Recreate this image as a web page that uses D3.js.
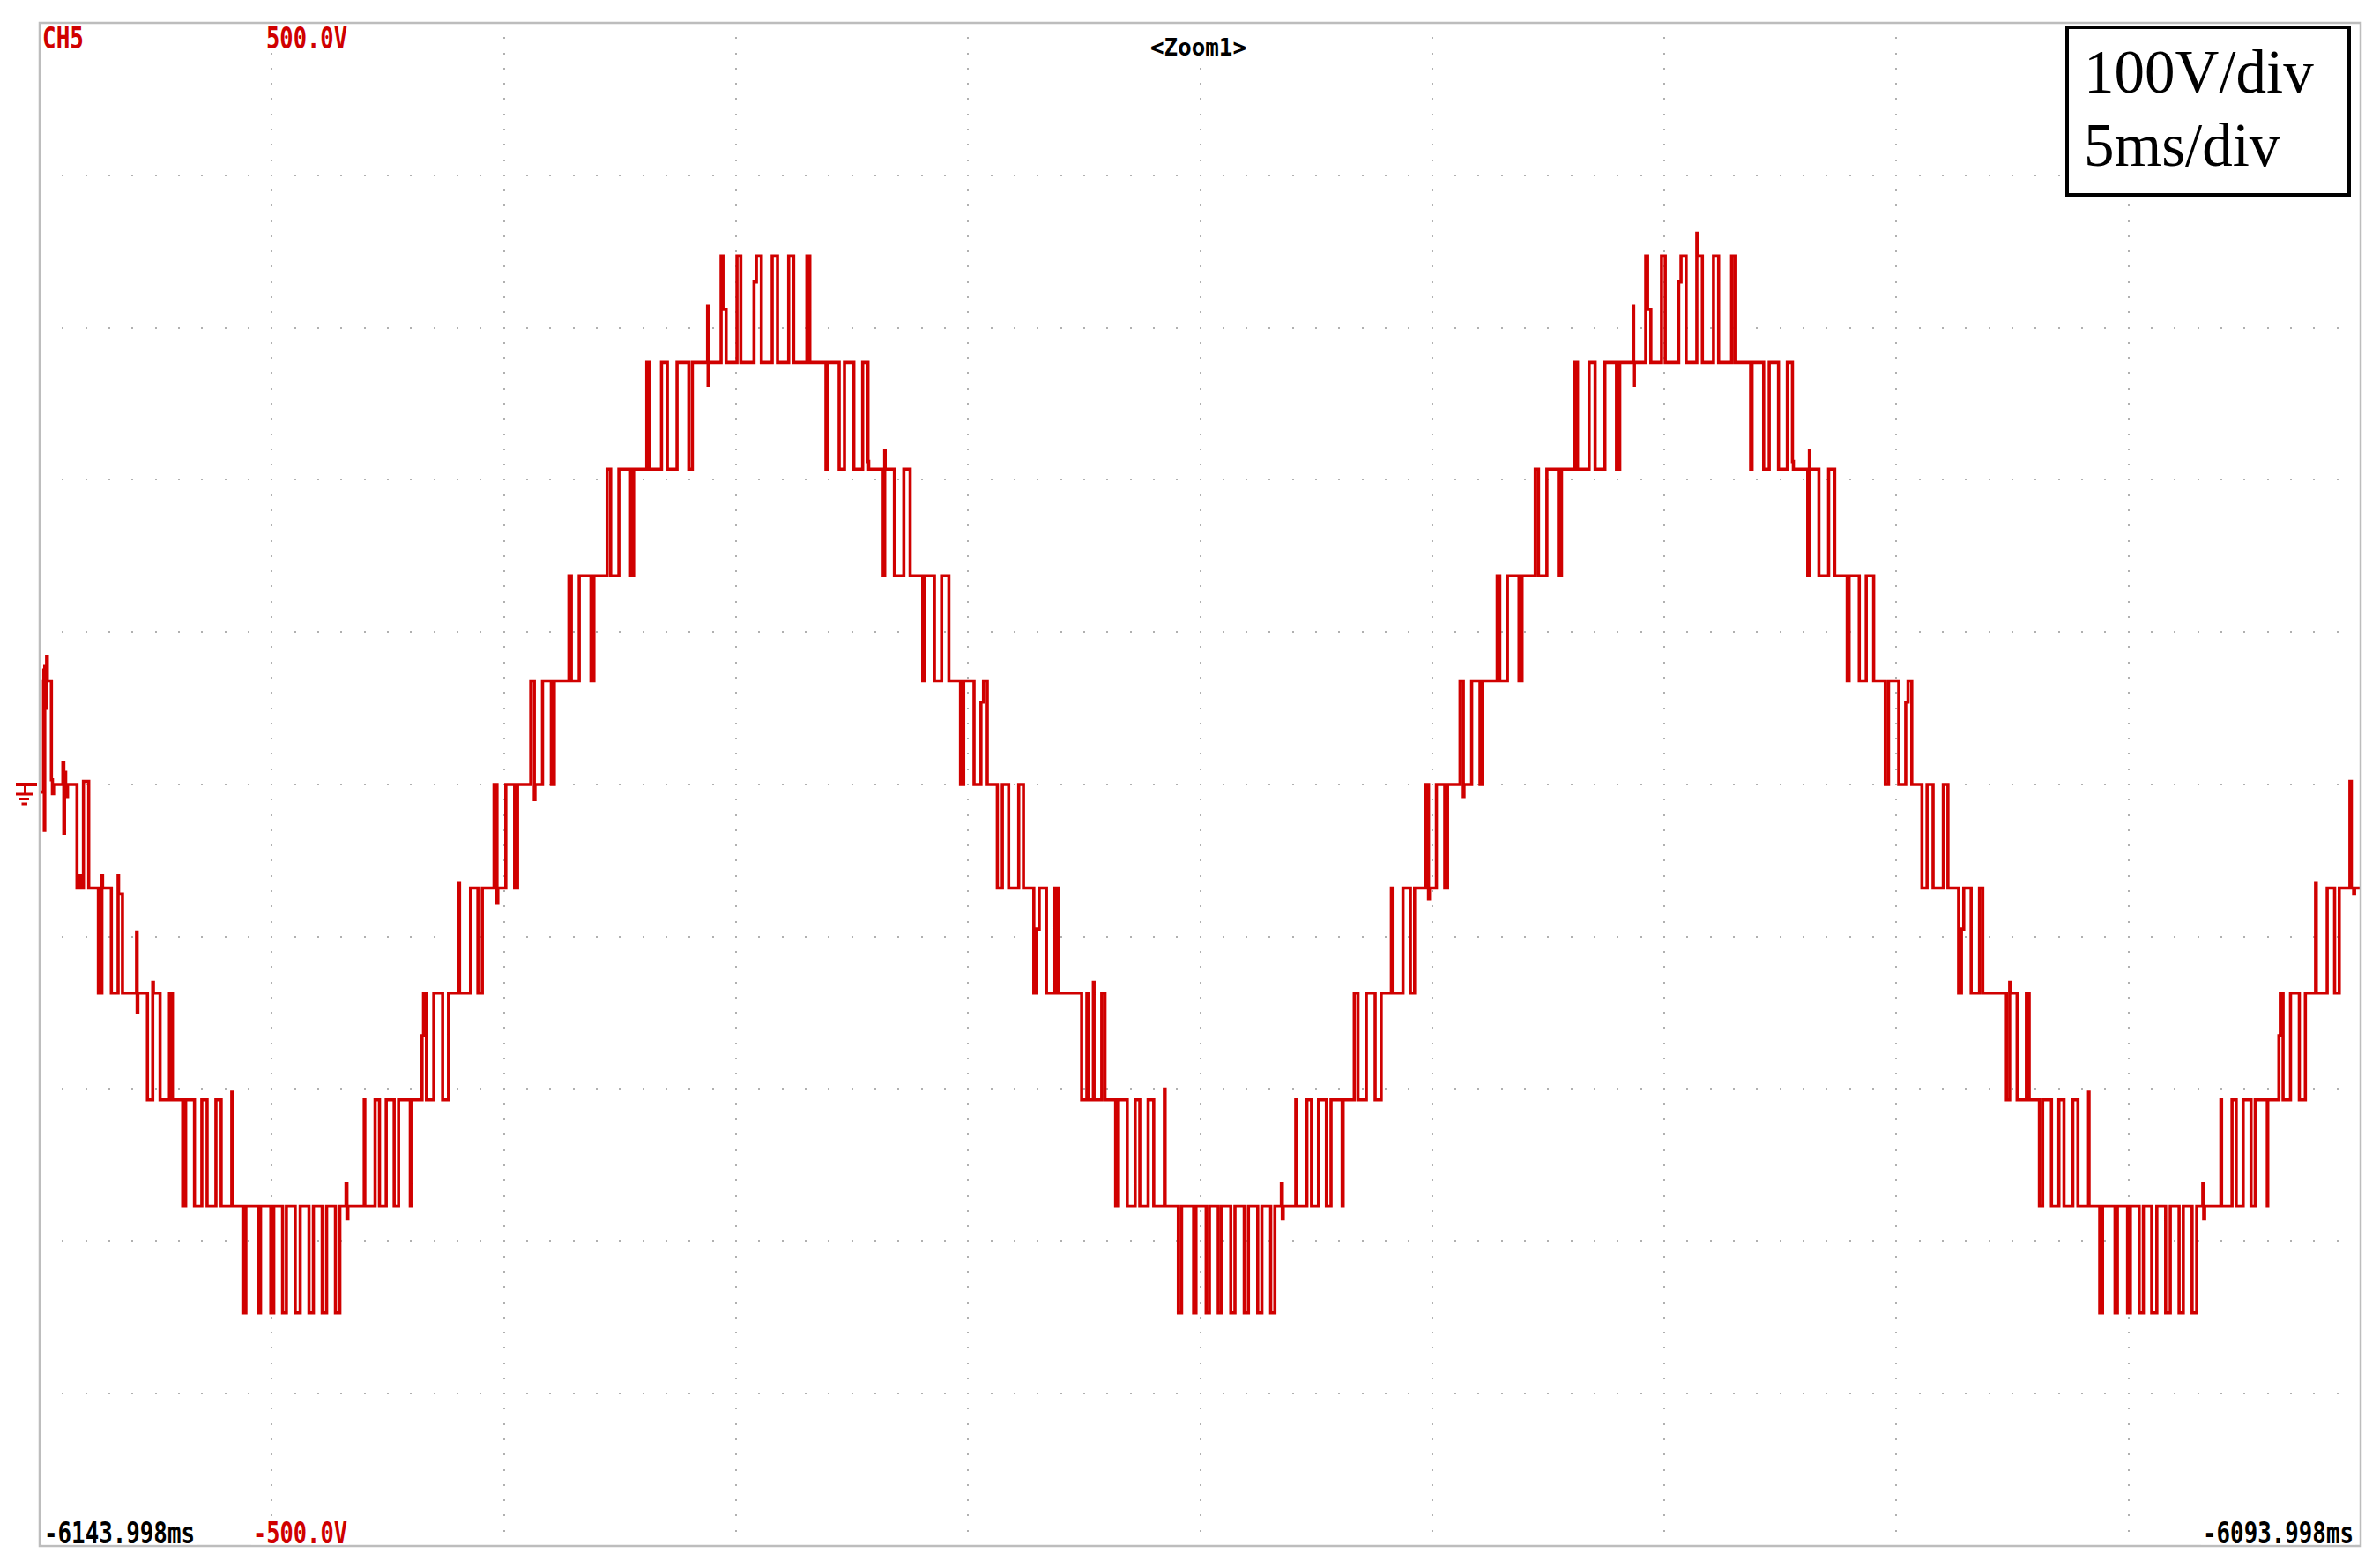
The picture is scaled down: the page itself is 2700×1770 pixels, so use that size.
<!DOCTYPE html>
<html><head><meta charset="utf-8">
<script src="https://cdn.jsdelivr.net/npm/d3@7"></script>
<style>html,body{margin:0;padding:0;background:#fff;} svg{display:block;}</style>
</head><body>
<svg id="chart" width="2700" height="1770"></svg>
<script>
// ---------- labels ----------
const channelLabel = "CH5";
const voltTopLabel = "500.0V";
const voltBottomLabel = "-500.0V";
const zoomLabel = "<Zoom1>";
const timeStartLabel = "-6143.998ms";
const timeEndLabel = "-6093.998ms";
const scaleNote = ["100V/div", "5ms/div"];
// ---------- axes ----------
const timeDomainMs = [0, 50];      // 10 div x 5 ms, from left edge
const voltDomain = [-500, 500];    // 10 div x 100 V
const timeDivMs = 5, voltDiv = 100;
// ---------- trace (ms from left edge, volts), step-after ----------
const traceFall1 = [[0.000,68],[0.010,-5],[0.090,75],[0.100,-30],[0.110,78],[0.135,50],[0.150,84],[0.165,68],
 [0.253,3],[0.275,-6],[0.300,0],[0.500,14],[0.520,-32],[0.535,8],[0.560,-8],[0.600,0],
 [0.804,-68],[0.850,-60],[0.900,-68],[0.943,2],[1.057,-68],
 [1.265,-137],[1.340,-60],[1.355,-68],
 [1.544,-137],[1.690,-60],[1.700,-72],[1.784,-137],
 [2.088,-97],[2.100,-150],[2.115,-137],
 [2.322,-207],[2.436,-130],[2.450,-137],[2.594,-207],[2.797,-137],[2.860,-207],
 [3.082,-277],[3.145,-207],[3.335,-277],[3.493,-207],[3.607,-277],[3.797,-207],[3.910,-277],
 [4.138,-202],[4.150,-277]];
const traceTrough1 = [[4.379,-347],[4.442,-277],[4.708,-347],[4.758,-277],[4.980,-347],[5.043,-277],[5.233,-347],[5.315,-277],
 [5.505,-347],[5.613,-277],[5.802,-347],[5.897,-277],[6.087,-347],[6.182,-277],[6.372,-347],[6.467,-277],
 [6.600,-262],[6.620,-285],[6.640,-277]];
const traceRise1 = [[6.992,-207],[7.005,-277],[7.226,-207],[7.321,-277],[7.466,-207],[7.637,-277],[7.732,-207],[7.985,-277],[7.998,-207],
 [8.238,-165],[8.270,-137],[8.333,-207],[8.491,-137],[8.681,-207],[8.808,-137],[9.029,-65],[9.045,-137],
 [9.282,-68],[9.441,-137],[9.536,-68],[9.789,0],[9.852,-78],[9.870,-68],
 [10.042,0],[10.232,-68],[10.295,0],[10.580,68],[10.656,-10],[10.670,0],[10.833,68],[11.023,0],[11.086,68],
 [11.402,137],[11.453,68],[11.624,137],[11.877,68],[11.940,137],
 [12.225,207],[12.301,137],[12.478,207],[12.731,137],[12.795,207],
 [13.079,277],[13.143,207],[13.396,277],[13.522,207],[13.731,277],[13.984,207],[14.060,277]];
const tracePeak1 = [[14.389,314],[14.400,262],[14.415,277],[14.680,347],[14.720,312],[14.788,277],[15.022,347],[15.104,277],
 [15.389,330],[15.440,347],[15.547,277],[15.781,347],[15.895,277],[16.136,347],[16.243,277],[16.528,347],[16.591,277]];
const traceFall2 = [[16.939,207],[16.971,277],[17.224,207],[17.338,277],[17.540,207],[17.730,277],[17.844,212],[17.860,207],
 [18.173,137],[18.205,219],[18.215,207],
 [18.414,137],[18.617,207],[18.753,137],[19.024,68],[19.058,137],[19.275,68],[19.431,137],[19.587,68],[19.838,0],[19.906,68],
 [20.129,0],[20.278,54],[20.333,68],[20.414,0],[20.631,-68],[20.739,0],[20.875,-68],[21.092,0],[21.194,-68],
 [21.417,-137],[21.478,-95],[21.533,-68],[21.689,-137],[21.872,-68],[21.940,-137],[22.448,-207]];
const traceFall3 = [[22.560,-137],[22.600,-207],[22.700,-130],[22.715,-207],[22.880,-137],[22.950,-207],
 [23.180,-277],[23.240,-207],[23.430,-277],[23.600,-207],[23.700,-277],[23.880,-207],[24.000,-277],[24.230,-200],[24.245,-277]];
const traceTrough2 = [[24.53,-347],[24.60,-277],[24.86,-347],[24.91,-277],[25.13,-347],[25.20,-277],[25.39,-347],[25.46,-277],
 [25.66,-347],[25.75,-277],[25.95,-347],[26.04,-277],[26.24,-347],[26.33,-277],[26.52,-347],[26.61,-277],
 [26.75,-262],[26.77,-285],[26.79,-277]];
const traceRise2 = [[27.06,-207],[27.075,-277],[27.30,-207],[27.40,-277],[27.55,-207],[27.72,-277],[27.82,-207],[28.06,-277],[28.08,-207],
 [28.32,-137],[28.40,-207],[28.58,-137],[28.77,-207],[28.90,-137],[29.12,-68],[29.135,-137],
 [29.37,-68],[29.53,-137],[29.62,-68],[29.86,0],[29.92,-75],[29.94,-68],
 [30.09,0],[30.27,-68],[30.33,0],[30.60,68],[30.67,-8],[30.685,0],[30.85,68],[31.03,0],[31.09,68],
 [31.40,137],[31.455,68],[31.62,137],[31.87,68],[31.935,137],
 [32.22,207],[32.29,137],[32.47,207],[32.72,137],[32.785,207],
 [33.07,277],[33.13,207],[33.38,277],[33.51,207],[33.72,277],[33.97,207],[34.04,277]];
const tracePeak2 = [[34.33,314],[34.34,262],[34.355,277],[34.60,347],[34.64,312],[34.71,277],[34.94,347],[35.02,277],
 [35.31,330],[35.36,347],[35.47,277],[35.70,362],[35.72,347],[35.82,277],[36.06,347],[36.17,277],[36.45,347],[36.52,277]];
const traceFall4 = [[36.86,207],[36.89,277],[37.14,207],[37.26,277],[37.46,207],[37.65,277],[37.76,212],[37.78,207],
 [38.09,137],[38.125,219],[38.135,207],
 [38.33,137],[38.54,207],[38.67,137],[38.94,68],[38.98,137],[39.20,68],[39.35,137],[39.51,68],[39.76,0],[39.83,68],
 [40.05,0],[40.20,54],[40.25,68],[40.33,0],[40.55,-68],[40.66,0],[40.79,-68],[41.01,0],[41.11,-68],
 [41.34,-137],[41.40,-95],[41.45,-68],[41.61,-137],[41.79,-68],[41.86,-137],[42.37,-207]];
const traceFall5 = [[42.44,-130],[42.455,-137],[42.60,-207],[42.80,-137],[42.86,-207],
 [43.08,-277],[43.15,-207],[43.34,-277],[43.50,-207],[43.61,-277],[43.80,-207],[43.91,-277],[44.14,-202],[44.15,-277]];
const traceTrough3 = [[44.38,-347],[44.44,-277],[44.71,-347],[44.76,-277],[44.98,-347],[45.04,-277],[45.23,-347],[45.32,-277],
 [45.50,-347],[45.61,-277],[45.80,-347],[45.90,-277],[46.09,-347],[46.18,-277],[46.37,-347],[46.47,-277],
 [46.60,-262],[46.62,-285],[46.64,-277]];
const traceRise3 = [[46.99,-207],[47.005,-277],[47.23,-207],[47.32,-277],[47.47,-207],[47.64,-277],[47.73,-207],[47.99,-277],[48.00,-207],
 [48.24,-165],[48.27,-137],[48.33,-207],[48.49,-137],[48.68,-207],[48.81,-137],[49.03,-65],[49.045,-137],
 [49.28,-68],[49.44,-137],[49.54,-68],[49.77,2],[49.80,-68],[49.85,-72],[49.87,-68]];

// ---------- drawing ----------
const svg = d3.select("#chart");
const frame = {left:45, right:2678, top:26, bottom:1754};
const x = d3.scaleLinear().domain(timeDomainMs).range([frame.left, frame.right]);
const y = d3.scaleLinear().domain(voltDomain).range([frame.bottom, frame.top]);
const red = "#d00000";

svg.append("rect").attr("width",2700).attr("height",1770).attr("fill","#fff");

// grid dots
const gDots = svg.append("g").attr("fill","#b0b0b0");
const tDivs = d3.range(timeDomainMs[0]+timeDivMs, timeDomainMs[1], timeDivMs);
const vDivs = d3.range(voltDomain[0]+voltDiv, voltDomain[1], voltDiv);
const tSub = d3.range(timeDomainMs[0], timeDomainMs[1]+1e-9, timeDivMs/10).slice(1,-1);
const vSub = d3.range(voltDomain[0], voltDomain[1]+1e-9, voltDiv/10).slice(1,-1);
vDivs.forEach(v => {
  gDots.selectAll(null).data(tSub).enter().append("rect")
    .attr("x", d => Math.round(x(d))-1).attr("y", Math.round(y(v))-1).attr("width",2).attr("height",2);
});
tDivs.forEach(t => {
  gDots.selectAll(null).data(vSub).enter().append("rect")
    .attr("x", Math.round(x(t))-1).attr("y", d => Math.round(y(d))-1).attr("width",2).attr("height",2);
});

// trace
const trace = [].concat(traceFall1, traceTrough1, traceRise1, tracePeak1, traceFall2,
  traceFall3, traceTrough2, traceRise2, tracePeak2, traceFall4, traceFall5, traceTrough3, traceRise3);
svg.append("defs").append("clipPath").attr("id","clip").append("rect")
  .attr("x",frame.left).attr("y",frame.top).attr("width",frame.right-frame.left).attr("height",frame.bottom-frame.top);
const line = d3.line().x(d => x(d[0])).y(d => y(d[1])).curve(d3.curveStepAfter);
svg.append("path").datum(trace.concat([[timeDomainMs[1], trace[trace.length-1][1]]])).attr("d", line).attr("fill","none")
  .attr("stroke", red).attr("stroke-width", 3.6).attr("stroke-linejoin","miter").attr("clip-path","url(#clip)");

// frame
svg.append("rect").attr("x",frame.left).attr("y",frame.top)
  .attr("width",frame.right-frame.left).attr("height",frame.bottom-frame.top)
  .attr("fill","none").attr("stroke","#bdbdbd").attr("stroke-width",2.5);

// ground marker
const gy = Math.round(y(0));
const gnd = svg.append("g").attr("stroke", red).attr("fill","none");
gnd.append("line").attr("x1",18).attr("x2",42).attr("y1",gy).attr("y2",gy).attr("stroke-width",4);
gnd.append("line").attr("x1",28.5).attr("x2",28.5).attr("y1",gy).attr("y2",gy+11).attr("stroke-width",3);
gnd.append("line").attr("x1",18).attr("x2",37).attr("y1",gy+11).attr("y2",gy+11).attr("stroke-width",3);
gnd.append("line").attr("x1",22).attr("x2",33).attr("y1",gy+16.5).attr("y2",gy+16.5).attr("stroke-width",3);
gnd.append("line").attr("x1",24.5).attr("x2",31).attr("y1",gy+22).attr("y2",gy+22).attr("stroke-width",3);

// scope texts: monospace sized to the measured width, stretched vertically to the measured cap height
function scopeText(txt, px, py, width, color, cap) {
  const fs = width / (txt.length * 0.602);
  const sy = cap / (0.729 * fs);
  const g = svg.append("g").attr("transform", `translate(${px},${py}) scale(1,${sy.toFixed(3)})`);
  g.append("rect").attr("fill","#fff").attr("x",-2).attr("y",-fs*0.8).attr("width",width+4).attr("height",fs*0.84);
  g.append("text").text(txt).attr("x",0).attr("y",0)
    .attr("font-family","'DejaVu Sans Mono', monospace").attr("font-weight","bold")
    .attr("font-size", fs.toFixed(2)).attr("fill", color);
}
scopeText(channelLabel, 48, 54.5, 47, red, 24);
scopeText(voltTopLabel, 302, 54.5, 92, red, 24);
scopeText(zoomLabel, 1305, 63, 109, "#000", 20);
scopeText(timeStartLabel, 50, 1751, 171, "#000", 24);
scopeText(voltBottomLabel, 287, 1751, 107, red, 24);
scopeText(timeEndLabel, 2499, 1751, 171, "#000", 24);

// scale note box
const box = svg.append("g");
box.append("rect").attr("x",2345).attr("y",31).attr("width",320).attr("height",190)
  .attr("fill","#fff").attr("stroke","#000").attr("stroke-width",4);
box.selectAll("text").data(scaleNote).enter().append("text")
  .attr("x",2364).attr("y",(d,i) => 105 + i*83)
  .attr("font-family","'Liberation Serif', 'Times New Roman', serif")
  .attr("font-size",69).attr("fill","#000").text(d => d);
</script></body></html>
